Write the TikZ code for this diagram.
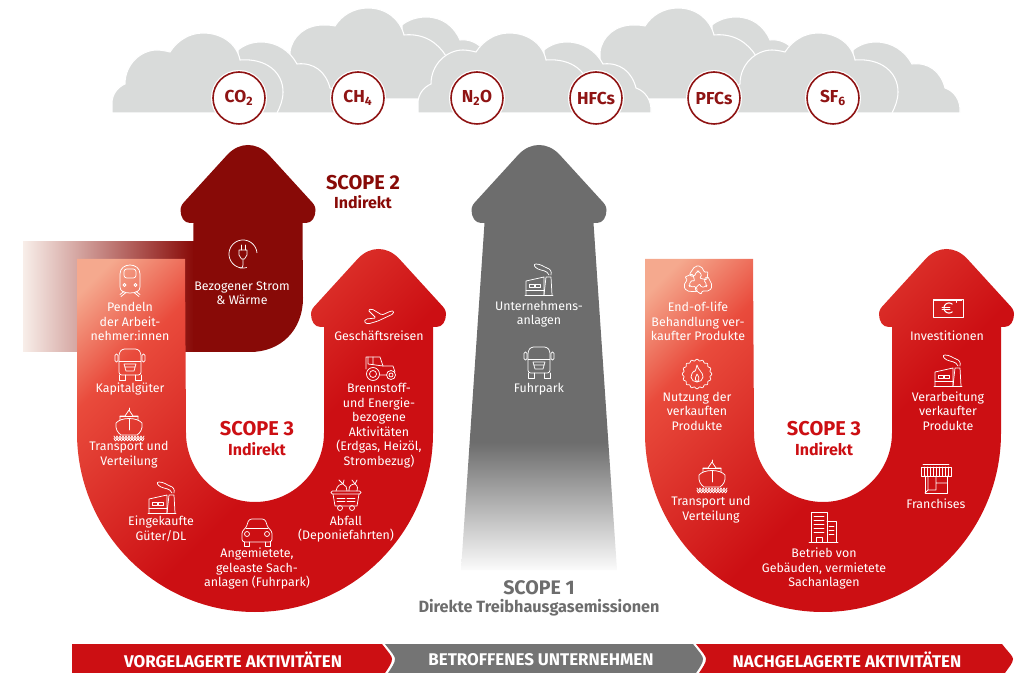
\documentclass[tikz,border=0pt]{standalone}
\usepackage{fontspec}
\setmainfont{Fira Sans}
\definecolor{scopered}{HTML}{CC0F13}
\definecolor{scopemid}{HTML}{E94B3C}
\definecolor{scopepale}{HTML}{F5A98E}
\definecolor{scopedark}{HTML}{880A07}
\definecolor{scopefade}{HTML}{F8EEE9}
\definecolor{scopegrey}{HTML}{6D6D6D}
\definecolor{greyend}{HTML}{FBFBFB}
\definecolor{cloudgrey}{HTML}{D9DBDA}
\definecolor{gasring}{HTML}{8F1414}
\pgfdeclareverticalshading{redglow}{100bp}{color(0bp)=(scopered); color(45bp)=(scopered); color(70bp)=(scopemid); color(81bp)=(scopepale); color(100bp)=(scopepale)}
\pgfdeclareverticalshading{greyfade}{100bp}{color(0bp)=(greyend); color(25bp)=(greyend); color(40bp)=(scopegrey); color(100bp)=(scopegrey)}
\tikzset{
  cloudpart/.style={fill=cloudgrey,draw=white,line width=0.8pt},
  gas/.style={circle,draw=gasring,fill=white,line width=1.2pt,minimum size=39pt,inner sep=0pt,text=gasring,font=\fontsize{13}{14}\selectfont\bfseries,preaction={draw=white,line width=3pt}},
  itemtext/.style={align=center,text=white,inner sep=0pt,font=\fontsize{9.3}{10.9}\selectfont},
  scopetitle/.style={align=center,inner sep=0pt,font=\fontsize{15}{16}\selectfont\bfseries},
  scopesub/.style={align=center,inner sep=0pt,font=\fontsize{12}{13}\selectfont\bfseries},
  bartext/.style={text=white,inner sep=0pt,font=\fontsize{12.7}{14}\selectfont\bfseries},
  iconline/.style={draw=white,line width=0.55pt,line join=round,line cap=round},
}
\newcommand{\headtop}[2]{({#1+54.5},{#2+78}) -- ({#1+58},{#2+78}) .. controls ({#1+64},{#2+78}) and ({#1+67.5},{#2+72}) .. ({#1+67.5},{#2+65}) .. controls ({#1+67.5},{#2+61}) and ({#1+65},{#2+58}) .. ({#1+62},{#2+55}) -- ({#1+20},{#2+9}) .. controls ({#1+14},{#2+3}) and ({#1+7},{#2}) .. ({#1},{#2}) .. controls ({#1-7},{#2}) and ({#1-14},{#2+3}) .. ({#1-20},{#2+9}) -- ({#1-62},{#2+55}) .. controls ({#1-65},{#2+58}) and ({#1-67.5},{#2+61}) .. ({#1-67.5},{#2+65}) .. controls ({#1-67.5},{#2+72}) and ({#1-64},{#2+78}) .. ({#1-58},{#2+78}) -- ({#1-54.5},{#2+78})}
\newcommand{\uarrow}[1]{
  \begin{scope}[shift={(#1,0)}]
    \shade[shading=redglow,shading angle=45] (77,259) -- (77,433) .. controls (77,531.5) and (156.7,612) .. (255,612) .. controls (353.3,612) and (433,531.5) .. (433,433) -- \headtop{378.5}{249} -- (324,433) .. controls (324,471) and (293,502) .. (255,502) .. controls (217,502) and (186,471) .. (186,433) -- (185,259) -- cycle;
  \end{scope}}
\newcommand{\cloudunit}[1]{
  \begin{scope}[shift={(#1,0)}]
    \path[cloudpart] (238,113) -- (238,50) .. controls (244,45) and (252,42) .. (261,42) .. controls (277,42) and (290,51) .. (297,64) .. controls (314,62) and (326,72) .. (330,88) .. controls (339,91) and (346,100) .. (345,113) -- cycle;
    \path[cloudpart] (112,113) -- (112,103) .. controls (112,94) and (118,87) .. (125,84) .. controls (125,64) and (141,50) .. (157,50) .. controls (161,50) and (166,51) .. (170,52) .. controls (177,41) and (189,33) .. (203,33) .. controls (222,33) and (237,44) .. (240,60) .. controls (266,58) and (283,72) .. (283,92) .. controls (283,100) and (280,107) .. (277,113) -- cycle;
  \end{scope}}
\newcommand{\cloudbig}[1]{
  \begin{scope}[shift={(#1,0)}]
    \path[cloudpart] (402,99) -- (402,25) .. controls (408,20) and (417,17) .. (426,17) .. controls (442,17) and (454,26) .. (460,40) .. controls (468,39) and (476,42) .. (482,48) -- (482,99) -- cycle;
    \path[cloudpart] (290,99) -- (290,52) .. controls (292,36) and (306,25) .. (323,25) .. controls (327,25) and (331,25) .. (335,26) .. controls (342,15) and (354,8) .. (368,8) .. controls (386,8) and (400,19) .. (404,35) .. controls (424,33) and (438,43) .. (446,56) -- (446,99) -- cycle;
  \end{scope}}
\newcommand{\icontrain}[2]{
  \begin{scope}[shift={(#1,#2)}]
    \draw[iconline] (-10,7) -- (-10,-6) .. controls (-10,-12) and (-5,-15) .. (0,-15) .. controls (5,-15) and (10,-12) .. (10,-6) -- (10,7) .. controls (10,11) and (6,13) .. (0,13) .. controls (-6,13) and (-10,11) .. (-10,7) -- cycle;
    \draw[iconline,rounded corners=2pt] (-6,-11) rectangle (6,-2);
    \draw[iconline] (-5.5,5) circle (1.5);
    \draw[iconline] (5.5,5) circle (1.5);
    \draw[iconline] (-4,12.5) -- (-9,16.5) (-6,11.5) -- (-10,14.5) (4,12.5) -- (9,16.5) (6,11.5) -- (10,14.5);
  \end{scope}}
\newcommand{\icontruck}[2]{
  \begin{scope}[shift={(#1,#2)}]
    \draw[iconline,rounded corners=2pt] (-11,10) -- (-11,-12) -- (-8,-16) -- (8,-16) -- (11,-12) -- (11,10) -- cycle;
    \draw[iconline] (-11,-4) -- (11,-4);
    \draw[iconline,rounded corners=1pt] (-15,-11) rectangle (-12,-3);
    \draw[iconline,rounded corners=1pt] (12,-11) rectangle (15,-3);
    \draw[iconline] (-6,-1) -- (6,-1) -- (4,6) -- (-4,6) -- cycle (-5,2) -- (5,2);
    \draw[iconline] (-11,10) -- (-11,15) -- (-5,15) -- (-5,10) (11,10) -- (11,15) -- (5,15) -- (5,10);
  \end{scope}}
\newcommand{\iconship}[2]{
  \begin{scope}[shift={(#1,#2)}]
    \draw[iconline] (-13,-1) .. controls (-14,5) and (-11,9) .. (-8,11) -- (8,11) .. controls (11,9) and (14,5) .. (13,-1) .. controls (8,-7) and (-8,-7) .. (-13,-1) -- cycle;
    \draw[iconline] (-9,-4) -- (-9,-8) -- (-4,-8) -- (0,-14) -- (4,-8) -- (9,-8) -- (9,-4);
    \draw[iconline] (0,-14) -- (0,-16) (0,-5) -- (0,6) (-9,-8) -- (9,-8);
    \foreach \wx in {-15,-12,...,12}
      \draw[iconline] (\wx,12) .. controls (\wx+1.5,15) .. (\wx+3,12) (\wx,14.5) .. controls (\wx+1.5,17.5) .. (\wx+3,14.5);
  \end{scope}}
\newcommand{\iconfactory}[2]{
  \begin{scope}[shift={(#1,#2)}]
    \draw[iconline] (-14,15) -- (14,15);
    \draw[iconline] (-13,15) -- (-13,1) -- (5,-3) -- (5,15);
    \draw[iconline] (5,15) -- (7,-3) -- (12,-3) -- (13,15);
    \draw[iconline] (-10,4) rectangle (-5,7);
    \draw[iconline] (-4,4) rectangle (1,7);
    \draw[iconline] (-13,10) -- (5,10);
    \draw[iconline] (10,-5) .. controls (8,-10) and (3,-9) .. (-1,-11) .. controls (-5,-13) and (-6,-16) .. (-3,-16) .. controls (2,-16) and (5,-13) .. (8,-12) .. controls (11,-11) and (13,-9) .. (12,-5);
  \end{scope}}
\newcommand{\iconcar}[2]{
  \begin{scope}[shift={(#1,#2)}]
    \draw[iconline,rounded corners=2pt] (-15,10) -- (-15,-1) -- (-11,-4) -- (-8,-13) -- (8,-13) -- (11,-4) -- (15,-1) -- (15,10) -- cycle;
    \draw[iconline] (-11,-4) -- (11,-4);
    \draw[iconline] (-10,2) circle (2.5);
    \draw[iconline] (10,2) circle (2.5);
    \draw[iconline] (-13,10) -- (-13,14) -- (-8,14) -- (-8,10) (13,10) -- (13,14) -- (8,14) -- (8,10);
  \end{scope}}
\newcommand{\iconwaste}[2]{
  \begin{scope}[shift={(#1,#2)}]
    \draw[iconline,rounded corners=1pt] (-15,-4) rectangle (15,-1);
    \draw[iconline] (-13,-1) -- (-11,11) -- (11,11) -- (13,-1);
    \draw[iconline] (-9,3) -- (-1,3) (1,3) -- (9,3) (-9,6) -- (-1,6) (1,6) -- (9,6);
    \draw[iconline] (-6,13) circle (2.5);
    \draw[iconline] (6,13) circle (2.5);
    \draw[iconline] (-10,-4) .. controls (-9,-10) and (-5,-11) .. (-3,-11) -- (-7,-15) (-3,-11) -- (-2,-15) (-3,-11) .. controls (0,-10) and (1,-7) .. (1,-4);
    \draw[iconline] (3,-4) .. controls (2,-10) and (7,-11) .. (9,-11) -- (6,-15) (9,-11) -- (11,-15) (9,-11) .. controls (12,-9) and (12,-6) .. (11,-4);
  \end{scope}}
\newcommand{\iconplane}[2]{
  \begin{scope}[shift={(#1,#2)}]
    \draw[iconline,rounded corners=1pt] (-15,6) -- (-13,3) -- (-3,2) -- (-11,-6) -- (-7,-7) -- (3,-1) -- (12,-5) -- (15,-5) -- (14,-2) -- (-1,5) -- (-11,8) -- cycle;
  \end{scope}}
\newcommand{\icontractor}[2]{
  \begin{scope}[shift={(#1,#2)}]
    \draw[iconline] (-7,6) circle (6.5);
    \draw[iconline] (-7,6) circle (3.5);
    \draw[iconline] (11,7) circle (4.5);
    \draw[iconline] (11,7) circle (2);
    \draw[iconline] (-14,1) -- (-14,-11) -- (0,-11) -- (3,-2) -- (13,-2) -- (15,4);
    \draw[iconline] (0,7) -- (6,7) (-12,-11) -- (-12,-4) -- (3,-2) (-7,-11) -- (-7,-4);
  \end{scope}}
\newcommand{\iconplug}[2]{
  \begin{scope}[shift={(#1,#2)}]
    \draw[iconline] plot[domain=-5:-285,samples=40,smooth] ({14*cos(\x)},{14*sin(\x)});
    \draw[iconline] (-4,-4) -- (4,-4) -- (4,1) -- (1.5,5) -- (-1.5,5) -- (-4,1) -- cycle;
    \draw[iconline] (-2,-9) -- (-2,-4) (2,-9) -- (2,-4);
    \draw[iconline] (0,5) -- (0,11) .. controls (0,14) and (-1,14) .. (-3,14);
  \end{scope}}
\newcommand{\iconrecycle}[2]{
  \begin{scope}[shift={(#1,#2)}]
    \foreach \ra in {0,120,240}
      \draw[iconline,rotate=\ra,rounded corners=1.5pt] (-9,-6) -- (-3,-15) -- (3,-15) -- (7,-8) -- (10,-10) -- (9,-1) -- (1,-3) -- (4,-5) -- (1,-10) -- (-1,-10) -- (-4,-4) -- cycle;
  \end{scope}}
\newcommand{\iconflame}[2]{
  \begin{scope}[shift={(#1,#2)}]
    \draw[iconline] plot[domain=0:360,samples=121,smooth] ({(14+0.8*cos(16*\x))*cos(\x)},{(14+0.8*cos(16*\x))*sin(\x)});
    \draw[iconline] (0,-9) .. controls (1,-4) and (6,-2) .. (6,3) .. controls (6,6) and (3,8) .. (0,8) .. controls (-3,8) and (-6,6) .. (-6,3) .. controls (-6,0) and (-4,-2) .. (-3,-3) .. controls (-2,-1) and (-1,-5) .. (0,-9) -- cycle;
    \draw[iconline] (0,8) .. controls (-3,5) and (-1,2) .. (0,0) .. controls (2,3) and (3,5) .. (0,8);
  \end{scope}}
\newcommand{\iconeuro}[2]{
  \begin{scope}[shift={(#1,#2)}]
    \draw[iconline] (-15,-9) rectangle (15,9);
    \draw[iconline] (-14,-8) -- (14,-8);
    \draw[iconline,line width=0.8pt] plot[domain=-50:-310,samples=24,smooth] ({1+5*cos(\x)},{5*sin(\x)});
    \draw[iconline] (-6,-1) -- (2,-1) (-6,1.5) -- (2,1.5);
    \draw[iconline] (8,-8) -- (8,-5.5);
  \end{scope}}
\newcommand{\iconbuilding}[2]{
  \begin{scope}[shift={(#1,#2)}]
    \draw[iconline] (-14,15) -- (15,15);
    \draw[iconline] (-12,15) -- (-12,-15) -- (4,-15) -- (4,15) (4,-6) -- (13,-6) -- (13,15);
    \foreach \ly in {-11,-7,...,5}
      \draw[iconline] (-9,\ly) -- (1,\ly);
    \foreach \ly in {-1,3,7}
      \draw[iconline] (6,\ly) -- (11,\ly);
    \draw[iconline] (-7,15) -- (-7,10) -- (-1,10) -- (-1,15);
  \end{scope}}
\newcommand{\iconshop}[2]{
  \begin{scope}[shift={(#1,#2)}]
    \draw[iconline] (-13,-15) -- (13,-15) (-15,-12) rectangle (15,-3);
    \foreach \lx in {-12,-9,...,12}
      \draw[iconline] (\lx,-12) -- (\lx,-3);
    \draw[iconline] (-11,-3) -- (-11,14) -- (11,14) -- (11,-3);
    \draw[iconline] (-8,-3) -- (-8,11) -- (0,11) -- (0,-3) (0,4) -- (11,4) (-11,14) -- (-8,11);
  \end{scope}}
\begin{document}
\begin{tikzpicture}[x=0.75pt,y=-0.75pt]
  \useasboundingbox (0,0) rectangle (1018,673);

  \cloudbig{0}
  \cloudbig{310}
  \cloudunit{0}
  \cloudunit{306}
  \cloudunit{615}

  \node[gas] (co2) at (239,98) {CO\textsubscript{2}};
  \node[gas] (ch4) at (358,98) {CH\textsubscript{4}};
  \node[gas] (n2o) at (477,98) {N\textsubscript{2}O};
  \node[gas] (hfcs) at (596,98) {HFCs};
  \node[gas] (pfcs) at (714,98) {PFCs};
  \node[gas] (sf6) at (833,98) {SF\textsubscript{6}};

  % scope 2
  \shade[left color=scopefade,right color=scopedark] (23,242) rectangle (194,352);
  \fill[scopedark] (193,352) -- (250,352) .. controls (281,352) and (303,330) .. (303,298) -- \headtop{248}{145} -- cycle;
  \iconplug{243}{254}
  \node[itemtext] (strom) at (242,293) {Bezogener Strom\\\& Wärme};
  \node[scopetitle,text=scopedark] (scopetwo) at (363,183) {SCOPE 2};
  \node[scopesub,text=scopedark] (indirekttwo) at (363,202) {Indirekt};

  % scope 3 upstream
  \uarrow{0}
  \icontrain{130}{280}
  \node[itemtext] (pendeln) at (130,321.5) {Pendeln\\der Arbeit-\\nehmer:innen};
  \icontruck{130}{365}
  \node[itemtext] (kapital) at (130,389) {Kapitalgüter};
  \iconship{129}{424}
  \node[itemtext] (transportvor) at (129,454.5) {Transport und\\Verteilung};
  \iconfactory{162}{498}
  \node[itemtext] (gueter) at (161,529) {Eingekaufte\\Güter/DL};
  \iconcar{257}{532}
  \node[itemtext] (fuhrleasing) at (257,568.5) {Angemietete,\\geleaste Sach-\\anlagen (Fuhrpark)};
  \iconwaste{346}{495}
  \node[itemtext] (abfall) at (346,529) {Abfall\\(Deponiefahrten)};
  \iconplane{379}{316}
  \node[itemtext] (reisen) at (379,336) {Geschäftsreisen};
  \icontractor{380}{368}
  \node[itemtext] (brennstoff) at (379,425.5) {Brennstoff-\\und Energie-\\bezogene\\Aktivitäten\\(Erdgas, Heizöl,\\Strombezug)};
  \node[scopetitle,text=scopered] (scopevor) at (257,429) {SCOPE 3};
  \node[scopesub,text=scopered] (indirektvor) at (257,449) {Indirekt};

  % scope 1
  \shade[shading=greyfade] (461,570) -- (617,570) -- \headtop{539}{145} -- cycle;
  \iconfactory{539}{280}
  \node[itemtext] (anlagen) at (539,314) {Unternehmens-\\anlagen};
  \icontruck{539}{363}
  \node[itemtext] (fuhrpark) at (539,389) {Fuhrpark};
  \node[scopetitle,text=scopegrey,font=\fontsize{14.7}{16}\selectfont\bfseries] (scopeone) at (539,588) {SCOPE 1};
  \node[scopesub,text=scopegrey,font=\fontsize{12.2}{13}\selectfont\bfseries] (direkt) at (539,608) {Direkte Treibhausgasemissionen};

  % scope 3 downstream
  \uarrow{568}
  \iconrecycle{698}{281}
  \node[itemtext] (endoflife) at (698,321.5) {End-of-life\\Behandlung ver-\\kaufter Produkte};
  \iconflame{697}{374}
  \node[itemtext] (nutzung) at (697,411) {Nutzung der\\verkauften\\Produkte};
  \iconship{712}{476}
  \node[itemtext] (transportnach) at (711,509.5) {Transport und\\Verteilung};
  \iconbuilding{823}{527}
  \node[itemtext] (betrieb) at (824,568.5) {Betrieb von\\Gebäuden, vermietete\\Sachanlagen};
  \iconshop{936}{479}
  \node[itemtext] (franchises) at (936,504) {Franchises};
  \iconfactory{948}{371}
  \node[itemtext] (verarbeitung) at (948,411) {Verarbeitung\\verkaufter\\Produkte};
  \iconeuro{948}{308}
  \node[itemtext] (invest) at (947,336) {Investitionen};
  \node[scopetitle,text=scopered] (scopenach) at (824,429) {SCOPE 3};
  \node[scopesub,text=scopered] (indirektnach) at (824,449) {Indirekt};

  % bottom bar
  \fill[scopered] (72,644) -- (382,644) .. controls (389,653) and (392,656) .. (392,659) .. controls (392,663) and (389,667) .. (385,673) -- (72,673) -- cycle;
  \fill[scopegrey!95!white] (385,644) -- (693,644) .. controls (700,653) and (703,656) .. (703,659) .. controls (703,663) and (700,667) .. (696,673) -- (388,673) .. controls (392,667) and (395,663) .. (395,659) .. controls (395,656) and (392,653) .. (385,644) -- cycle;
  \fill[scopered] (696,644) -- (1002,644) .. controls (1009,653) and (1013,656) .. (1013,659) .. controls (1013,663) and (1009,667) .. (1005,673) -- (699,673) .. controls (703,667) and (706,663) .. (706,659) .. controls (706,656) and (703,653) .. (696,644) -- cycle;
  \node[bartext] (vorgelagert) at (233,660) {VORGELAGERTE AKTIVITÄTEN};
  \node[bartext] (betroffen) at (541,660) {BETROFFENES UNTERNEHMEN};
  \node[bartext] (nachgelagert) at (847,660) {NACHGELAGERTE AKTIVITÄTEN};
\end{tikzpicture}
\end{document}
